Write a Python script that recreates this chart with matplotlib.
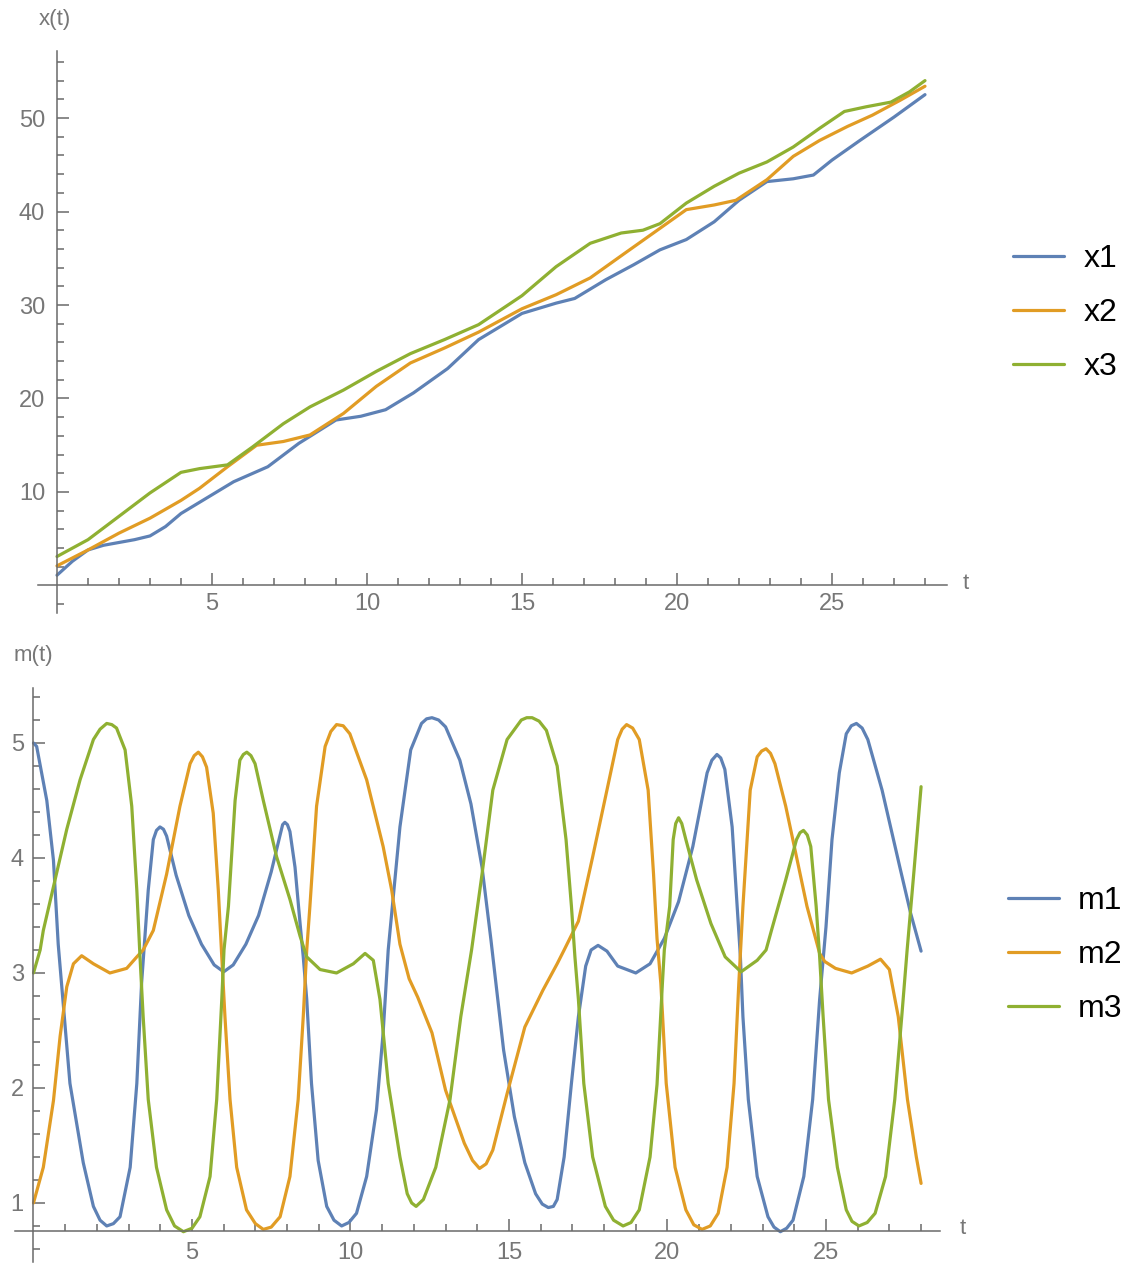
import matplotlib
matplotlib.use('Agg')
import matplotlib.pyplot as plt
from matplotlib.ticker import FixedLocator

plt.rcParams['font.family'] = ['Liberation Sans', 'DejaVu Sans']

# upper panel: x(t)
t_x1 = [0, 0.5, 1, 1.5, 2, 2.5, 3, 3.5, 4, 5, 5.7, 6.8, 7.8, 9.0, 9.8, 10.6, 11.5, 12.6,
        13.6, 14.5, 15.0, 16.1, 16.7, 17.7, 18.6, 19.45, 20.3, 21.2, 22.0, 22.9, 23.75,
        24.4, 25.0, 25.9, 27.0, 28.0]
x1 = [1.1, 2.6, 3.8, 4.3, 4.6, 4.9, 5.3, 6.3, 7.7, 9.7, 11.1, 12.7, 15.2, 17.7, 18.1, 18.8,
      20.6, 23.2, 26.3, 28.1, 29.1, 30.2, 30.7, 32.7, 34.3, 35.9, 37.0, 38.9, 41.2, 43.2,
      43.5, 43.9, 45.5, 47.6, 50.1, 52.5]

t_x2 = [0, 1, 2, 3, 4, 4.6, 5.5, 6.44, 7.3, 8.16, 9.24, 10.3, 11.4, 12.5, 13.6, 15.0, 16.1,
        17.2, 18.3, 19.45, 20.3, 21.2, 21.9, 22.9, 23.75, 24.6, 25.5, 26.3, 27.2, 28.0]
x2 = [2.1, 3.8, 5.6, 7.2, 9.1, 10.4, 12.7, 15.0, 15.4, 16.1, 18.4, 21.3, 23.8, 25.4, 27.1,
      29.6, 31.1, 32.9, 35.5, 38.2, 40.2, 40.7, 41.2, 43.4, 45.9, 47.6, 49.1, 50.3, 51.9, 53.4]

t_x3 = [0, 1, 2, 3, 4, 4.6, 5.5, 6.3, 7.3, 8.16, 9.24, 10.3, 11.4, 12.5, 13.6, 15.0, 16.1,
        17.2, 18.2, 18.9, 19.45, 20.3, 21.2, 22.0, 22.9, 23.75, 24.6, 25.4, 26.1, 26.9,
        27.5, 28.0]
x3 = [3.1, 4.9, 7.4, 9.9, 12.1, 12.5, 12.9, 14.8, 17.3, 19.1, 20.9, 22.9, 24.8, 26.3, 27.9,
      31.0, 34.1, 36.6, 37.7, 38.0, 38.7, 40.9, 42.7, 44.1, 45.3, 46.9, 48.9, 50.7, 51.2,
      51.7, 52.8, 54.0]

# lower panel: m(t)
t_m1 = [0, 0.1, 0.42, 0.63, 0.78, 1.15, 1.57, 1.89, 2.1, 2.31, 2.52, 2.73, 3.05, 3.26, 3.41,
        3.62, 3.78, 3.88, 3.99, 4.1, 4.2, 4.5, 4.9, 5.3, 5.7, 6.0, 6.3, 6.7, 7.1, 7.5, 7.78,
        7.86, 7.93, 8.01, 8.09, 8.25, 8.41, 8.51, 8.62, 8.77, 8.98, 9.25, 9.48, 9.72, 9.95,
        10.19, 10.51, 10.82, 11.03, 11.19, 11.56, 11.9, 12.24, 12.4, 12.57, 12.78, 13.0,
        13.45, 13.8, 14.15, 14.43, 14.83, 15.17, 15.5, 15.84, 16.05, 16.24, 16.4, 16.52,
        16.74, 16.97, 17.19, 17.42, 17.59, 17.81, 18.09, 18.43, 19.0, 19.45, 19.9, 20.35,
        20.8, 21.25, 21.4, 21.56, 21.68, 21.81, 22.04, 22.2, 22.3, 22.38, 22.55, 22.83,
        23.17, 23.36, 23.56, 23.76, 23.96, 24.3, 24.58, 24.8, 25.0, 25.19, 25.42, 25.64,
        25.8, 25.96, 26.14, 26.32, 26.77, 27.33, 27.67, 28.0]
m1 = [5.0, 4.97, 4.5, 3.98, 3.25, 2.04, 1.35, 0.97, 0.85, 0.8, 0.82, 0.88, 1.31, 2.04, 2.91,
      3.72, 4.16, 4.24, 4.27, 4.25, 4.19, 3.85, 3.5, 3.25, 3.07, 3.01, 3.07, 3.25, 3.5, 3.88,
      4.2, 4.29, 4.31, 4.29, 4.23, 3.92, 3.43, 3.14, 2.77, 2.04, 1.37, 0.97, 0.85, 0.8, 0.83,
      0.91, 1.23, 1.81, 2.48, 3.2, 4.27, 4.94, 5.17, 5.21, 5.22, 5.2, 5.14,
      4.85, 4.47, 3.92, 3.29, 2.33, 1.75, 1.35, 1.08, 0.99, 0.96, 0.97, 1.03,
      1.4, 2.04, 2.62, 3.06, 3.2, 3.24, 3.19, 3.06, 3.0, 3.08, 3.3, 3.62,
      4.1, 4.74, 4.85, 4.9, 4.87, 4.77, 4.27, 3.57, 3.14, 2.62, 1.9, 1.23,
      0.88, 0.79, 0.75, 0.78, 0.85, 1.23, 1.9, 2.77, 3.4, 4.16, 4.74, 5.08,
      5.15, 5.17, 5.13, 5.03, 4.59, 3.92, 3.52, 3.19]

t_m2 = [0, 0.31, 0.63, 0.84, 1.05, 1.26, 1.52, 1.89, 2.41, 2.94, 3.26, 3.46, 3.78, 4.2, 4.62,
        4.94, 5.07, 5.2, 5.33, 5.46, 5.67, 5.83, 5.94, 6.04, 6.2, 6.41, 6.72, 7.0, 7.25, 7.5,
        7.78, 8.09, 8.35, 8.51, 8.62, 8.72, 8.93, 9.2, 9.38, 9.56, 9.77, 9.98, 10.51, 11.03,
        11.3, 11.56, 11.85, 12.12, 12.57, 13.0, 13.59, 13.85, 14.07, 14.28, 14.49, 14.94,
        15.5, 16.07, 16.52, 16.74, 17.19, 17.64, 18.09, 18.43, 18.57, 18.71, 18.9, 19.11,
        19.39, 19.56, 19.67, 19.79, 19.96, 20.24, 20.58, 20.83, 21.09, 21.35, 21.6, 21.88,
        22.1, 22.25, 22.38, 22.61, 22.83, 22.97, 23.11, 23.25, 23.39, 23.73, 24.07, 24.4,
        24.8, 24.96, 25.3, 25.81, 26.32, 26.72, 27.0, 27.28, 27.57, 27.85, 28.0]
m2 = [1.0, 1.31, 1.89, 2.45, 2.88, 3.08, 3.15, 3.08, 3.0, 3.04, 3.14, 3.2, 3.37, 3.86, 4.45,
      4.82, 4.89, 4.92, 4.88, 4.79, 4.39, 3.72, 3.14, 2.62, 1.9, 1.31, 0.94, 0.82, 0.77, 0.79,
      0.88, 1.23, 1.9, 2.62, 3.2, 3.58, 4.45, 4.97, 5.1, 5.16, 5.15, 5.08, 4.68, 4.1,
      3.72, 3.25, 2.95, 2.79, 2.48, 1.98, 1.52, 1.37, 1.3, 1.34, 1.46, 1.95,
      2.53, 2.85, 3.08, 3.2, 3.45, 4.01, 4.59, 5.03, 5.12, 5.16, 5.13, 5.03,
      4.59, 3.86, 3.3, 2.91, 2.04, 1.31, 0.94, 0.81, 0.77, 0.8, 0.91, 1.31,
      2.04, 2.91, 3.58, 4.59, 4.88, 4.93, 4.95, 4.91, 4.82, 4.45, 4.01, 3.58,
      3.17, 3.1, 3.04, 3.0, 3.06, 3.12, 3.03, 2.62, 1.9, 1.4, 1.17]

t_m3 = [0, 0.21, 0.31, 0.63, 1.05, 1.47, 1.89, 2.1, 2.31, 2.47, 2.62, 2.89, 3.1, 3.26, 3.36,
        3.46, 3.62, 3.88, 4.2, 4.45, 4.73, 5.0, 5.25, 5.57, 5.78, 5.94, 6.01, 6.15, 6.36,
        6.51, 6.62, 6.73, 6.86, 6.99, 7.25, 7.67, 8.09, 8.41, 8.62, 9.04, 9.56, 10.09, 10.46,
        10.72, 10.93, 11.19, 11.56, 11.79, 11.93, 12.07, 12.3, 12.69, 13.14, 13.48, 13.82,
        14.15, 14.49, 14.94, 15.39, 15.56, 15.73, 15.95, 16.18, 16.52, 16.8, 16.97, 17.08,
        17.19, 17.36, 17.64, 18.04, 18.3, 18.6, 18.85, 19.11, 19.45, 19.67, 19.84, 19.9,
        20.07, 20.18, 20.26, 20.35, 20.45, 20.58, 20.92, 21.37, 21.82, 22.32, 22.83, 23.11,
        23.28, 23.73, 24.07, 24.18, 24.29, 24.41, 24.52, 24.69, 24.8, 24.91, 25.08, 25.36,
        25.64, 25.82, 26.04, 26.3, 26.55, 26.88, 27.17, 27.39, 27.56, 27.78, 28.0]
m3 = [3.0, 3.2, 3.37, 3.75, 4.25, 4.68, 5.03, 5.12, 5.17, 5.16, 5.13, 4.94, 4.45, 3.72, 3.14,
      2.62, 1.9, 1.31, 0.94, 0.8, 0.75, 0.78, 0.88, 1.23, 1.9, 2.77, 3.2, 3.58, 4.5,
      4.85, 4.9, 4.92, 4.89, 4.82, 4.5, 4.01, 3.64, 3.32, 3.14, 3.03, 3.0, 3.08, 3.17,
      3.11, 2.77, 2.04, 1.4, 1.08, 1.0, 0.97, 1.03, 1.31, 1.9, 2.62, 3.2,
      3.86, 4.59, 5.03, 5.2, 5.22, 5.22, 5.19, 5.11, 4.8, 4.16, 3.58, 3.14,
      2.77, 2.04, 1.4, 0.97, 0.85, 0.8, 0.83, 0.94, 1.4, 2.03, 2.91, 3.2,
      3.58, 4.16, 4.3, 4.35, 4.3, 4.16, 3.81, 3.43, 3.14, 3.01, 3.11, 3.2,
      3.37, 3.81, 4.16, 4.22, 4.24, 4.2, 4.1, 3.58, 3.14, 2.62, 1.9, 1.31,
      0.94, 0.84, 0.8, 0.83, 0.91, 1.23, 1.9, 2.62, 3.2, 3.9, 4.62]

colors = ['#5E81B5', '#E19C24', '#8FB032']
axis_gray = '#6a6a6a'
label_gray = '#777777'

W, H = 1133, 1270
fig = plt.figure(figsize=(W / 100, H / 100), dpi=100)


def px_axes(x0, y0, x1, y1):
    # pixel box (left, top, right, bottom) -> figure fraction rect
    return [x0 / W, 1 - y1 / H, (x1 - x0) / W, (y1 - y0) / H]


def style_axis(ax, xcross, ycross, xmaj, xmin, ymaj, ymin, xpad, ypad):
    for s in ['top', 'right']:
        ax.spines[s].set_visible(False)
    ax.spines['left'].set_position(('data', xcross))
    ax.spines['bottom'].set_position(('data', ycross))
    for s in ['left', 'bottom']:
        ax.spines[s].set_color(axis_gray)
        ax.spines[s].set_linewidth(1.1)
    ax.xaxis.set_major_locator(FixedLocator(xmaj))
    ax.xaxis.set_minor_locator(FixedLocator(xmin))
    ax.yaxis.set_major_locator(FixedLocator(ymaj))
    ax.yaxis.set_minor_locator(FixedLocator(ymin))
    ax.tick_params(which='both', direction='in', color=axis_gray, width=1.1,
                   labelcolor=label_gray, labelsize=17)
    ax.tick_params(which='major', length=8.5)
    ax.tick_params(which='minor', length=4.8)
    ax.tick_params(axis='x', pad=xpad)
    ax.tick_params(axis='y', pad=ypad)


# ---- top panel
ax1 = fig.add_axes(px_axes(38.4, 50.7, 946.7, 612.6))
for tt, yy, c, lab in zip([t_x1, t_x2, t_x3], [x1, x2, x3], colors, ['x1', 'x2', 'x3']):
    ax1.plot(tt, yy, color=c, lw=2.3, label=lab, solid_joinstyle='round', solid_capstyle='round')
ax1.set_xlim(-0.6, 28.7)
ax1.set_ylim(-2.9, 57.2)
style_axis(ax1, 0, 0, [5, 10, 15, 20, 25], [v for v in range(1, 29) if v % 5],
           [10, 20, 30, 40, 50], [v for v in range(-2, 57, 2) if v % 10],
           xpad=5.5, ypad=8.5)
ax1.legend(loc='center left', bbox_to_anchor=(1013 / W, 1 - 313 / H),
           bbox_transform=fig.transFigure, frameon=False, fontsize=23,
           handlelength=1.6, handletextpad=0.6, labelspacing=0.75, borderpad=0,
           borderaxespad=0)
fig.text(54.7 / W, 1 - 20 / H, 'x(t)', ha='center', va='center', color=label_gray, fontsize=16)
fig.text(966 / W, 1 - 584 / H, 't', ha='center', va='center', color=label_gray, fontsize=16)

# ---- bottom panel
ax2 = fig.add_axes(px_axes(15.1, 687.8, 940.1, 1261.6))
for tt, yy, c, lab in zip([t_m1, t_m2, t_m3], [m1, m2, m3], colors, ['m1', 'm2', 'm3']):
    ax2.plot(tt, yy, color=c, lw=2.3, label=lab, solid_joinstyle='round', solid_capstyle='round')
ax2.set_xlim(-0.58, 28.6)
ax2.set_ylim(0.49, 5.48)
m_minor = [round(0.6 + 0.2 * i, 1) for i in range(25)]
m_minor = [v for v in m_minor if abs(v - round(v)) > 1e-6]
style_axis(ax2, 0, 0.757, [5, 10, 15, 20, 25], [v for v in range(1, 29) if v % 5],
           [1, 2, 3, 4, 5], m_minor, xpad=8, ypad=7)
ax2.legend(loc='center left', bbox_to_anchor=(1008 / W, 1 - 955 / H),
           bbox_transform=fig.transFigure, frameon=False, fontsize=23,
           handlelength=1.6, handletextpad=0.6, labelspacing=0.75, borderpad=0,
           borderaxespad=0)
fig.text(33 / W, 1 - 655 / H, 'm(t)', ha='center', va='center', color=label_gray, fontsize=16)
fig.text(963 / W, 1 - 1229 / H, 't', ha='center', va='center', color=label_gray, fontsize=16)

fig.savefig('out.png', dpi=100)
